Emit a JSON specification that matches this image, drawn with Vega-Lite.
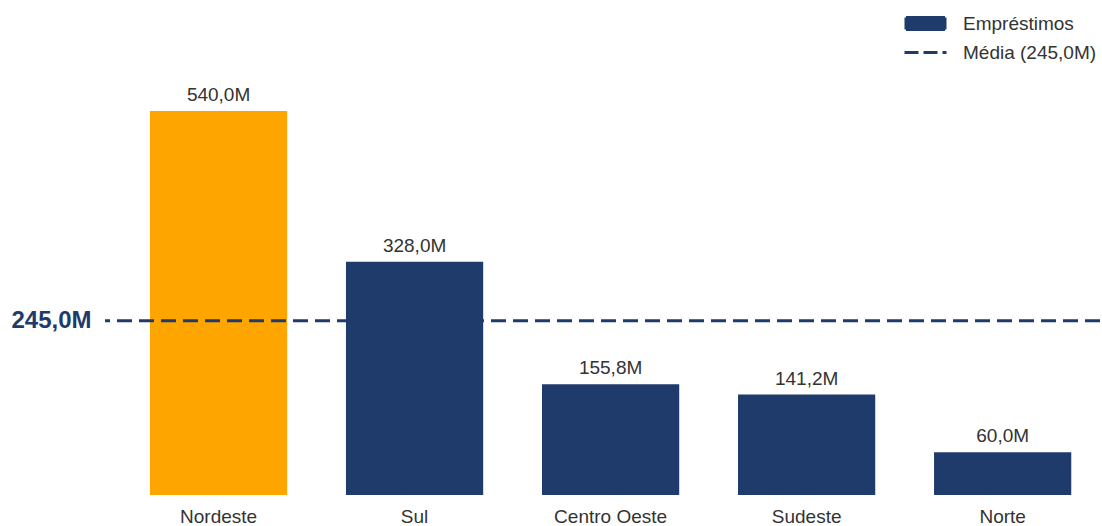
{
  "$schema": "https://vega.github.io/schema/vega-lite/v6.json",
  "autosize": {"type": "none"},
  "width": 995,
  "height": 495,
  "padding": {"left": 105, "top": 0, "right": 2, "bottom": 31},
  "config": {
    "font": "Liberation Sans",
    "view": {"stroke": null}
  },
  "datasets": {
    "bars": [
      {"regiao": "Nordeste", "valor": 540.0},
      {"regiao": "Sul", "valor": 328.0},
      {"regiao": "Centro Oeste", "valor": 155.8},
      {"regiao": "Sudeste", "valor": 141.2},
      {"regiao": "Norte", "valor": 60.0}
    ],
    "legenda": [
      {"serie": "Empréstimos"},
      {"serie": "Média (245,0M)"}
    ]
  },
  "layer": [
    {
      "data": {"name": "bars"},
      "mark": {"type": "bar"},
      "encoding": {
        "x": {
          "field": "regiao", "type": "nominal", "sort": null,
          "scale": {"paddingInner": 0.3, "paddingOuter": 0.188, "align": 0.61},
          "axis": {"title": null, "labelAngle": 0, "labelFontSize": 19, "labelColor": "#333333", "labelPadding": 12, "domain": false, "ticks": false}
        },
        "y": {
          "field": "valor", "type": "quantitative",
          "scale": {"domain": [0, 696], "nice": false},
          "axis": {"title": null, "values": [245], "labelExpr": "'245,0M'", "labelFontSize": 24, "labelFontWeight": "bold", "labelColor": "#1f3b6b", "labelPadding": 14, "domain": false, "ticks": false, "grid": false}
        },
        "color": {
          "condition": {"test": "datum.regiao === 'Nordeste'", "value": "#FFA500"},
          "value": "#1f3b6b"
        }
      }
    },
    {
      "data": {"name": "bars"},
      "transform": [
        {"calculate": "replace(format(datum.valor, '.1f'), '.', ',') + 'M'", "as": "rotulo"}
      ],
      "mark": {"type": "text", "baseline": "bottom", "dy": -6, "fontSize": 19, "color": "#333333"},
      "encoding": {
        "x": {"field": "regiao", "type": "nominal", "sort": null},
        "y": {"field": "valor", "type": "quantitative"},
        "text": {"field": "rotulo", "type": "nominal"}
      }
    },
    {
      "data": {"name": "bars"},
      "mark": {"type": "rule", "strokeDash": [15, 7], "strokeWidth": 3, "color": "#1f3b6b"},
      "encoding": {
        "y": {"aggregate": "mean", "field": "valor", "type": "quantitative"}
      }
    },
    {
      "data": {"name": "legenda"},
      "mark": {"type": "point", "opacity": 0, "filled": true, "stroke": "#1f3b6b", "strokeWidth": 3, "strokeJoin": "miter"},
      "encoding": {
        "color": {
          "field": "serie", "type": "nominal",
          "scale": {"domain": ["Empréstimos", "Média (245,0M)"], "range": ["#1f3b6b", "#1f3b6b"]},
          "legend": {
            "title": null,
            "orient": "none",
            "legendX": 809,
            "legendY": 12,
            "labelFontSize": 19,
            "labelColor": "#333333",
            "symbolSize": 400,
            "symbolStrokeWidth": 3,
            "symbolFillColor": "#1f3b6b",
            "rowPadding": 5,
            "labelOffset": 26
          }
        },
        "shape": {
          "field": "serie", "type": "nominal",
          "scale": {"domain": ["Empréstimos", "Média (245,0M)"], "range": ["M-1.95,-0.6H1.95V0.6H-1.95Z", "M-2.1,0H2.1"]}
        },
        "strokeDash": {
          "field": "serie", "type": "nominal",
          "scale": {"domain": ["Empréstimos", "Média (245,0M)"], "range": [[1, 0], [14, 5]]}
        }
      }
    }
  ]
}
